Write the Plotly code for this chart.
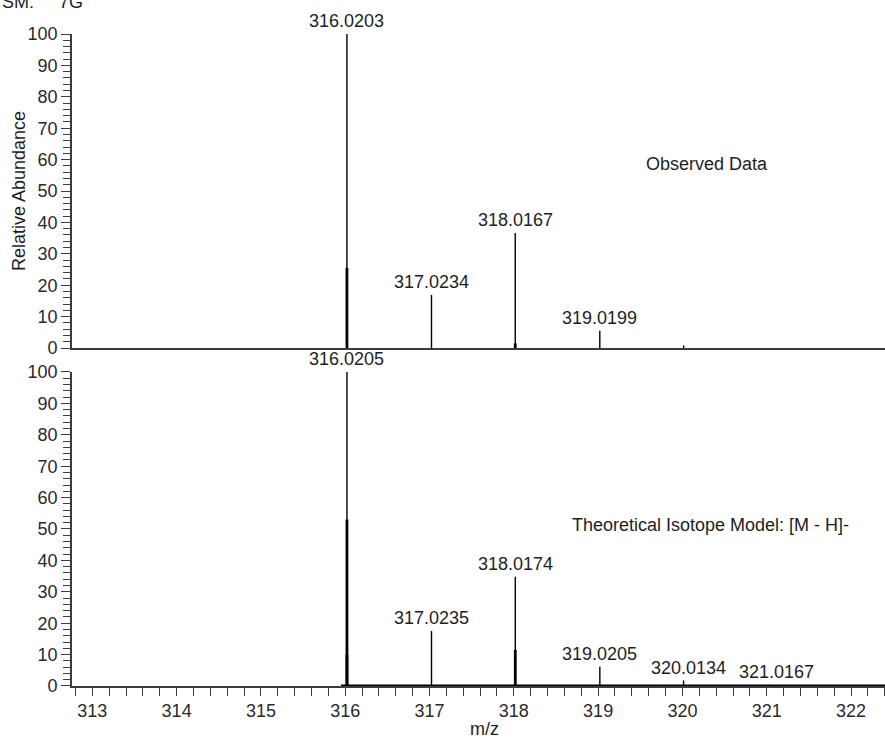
import plotly.graph_objects as go

# ---------------- data ----------------
obs_mz = [316.0203, 317.0234, 318.0167, 319.0199, 320.0150]
obs_int = [100, 16.9, 36.6, 5.5, 0.8]
obs_labels = ["316.0203", "317.0234", "318.0167", "319.0199", ""]
obs_flank_mz = [316.0203, 318.0167]
obs_flank_int = [25.5, 1.5]

theo_mz = [316.0205, 317.0235, 318.0174, 319.0205, 320.0134, 321.0167]
theo_int = [100, 17.5, 34.8, 6.1, 1.8, 0.5]
theo_labels = ["316.0205", "317.0235", "318.0174", "319.0205", "320.0134", "321.0167"]
theo_flank_mz = [316.0205, 316.0205, 318.0174]
theo_flank_int = [53, 10, 11.5]
theo_profile_start = 315.95

x_range = [312.759, 322.403]
FONT = "Liberation Sans, Arial, sans-serif"
AX = "#3c3c3c"


def sticks(mz, inten):
    xs, ys = [], []
    for m, i in zip(mz, inten):
        xs += [m, m, None]
        ys += [0, i, None]
    return xs, ys


fig = go.Figure()

# observed (top panel)
x, y = sticks(obs_mz, obs_int)
fig.add_trace(go.Scatter(x=x, y=y, mode="lines", line=dict(color="black", width=1.4),
                         xaxis="x2", yaxis="y2", hoverinfo="skip", showlegend=False))
x, y = sticks(obs_flank_mz, obs_flank_int)
fig.add_trace(go.Scatter(x=x, y=y, mode="lines", line=dict(color="black", width=2.8),
                         xaxis="x2", yaxis="y2", hoverinfo="skip", showlegend=False))

# theoretical (bottom panel): baseline of the modelled profile + sticks
fig.add_trace(go.Scatter(x=[theo_profile_start, x_range[1]], y=[0, 0], mode="lines",
                         line=dict(color="black", width=3.2),
                         xaxis="x", yaxis="y", hoverinfo="skip", showlegend=False))
x, y = sticks(theo_mz, theo_int)
fig.add_trace(go.Scatter(x=x, y=y, mode="lines", line=dict(color="black", width=1.4),
                         xaxis="x", yaxis="y", hoverinfo="skip", showlegend=False))
x, y = sticks(theo_flank_mz, theo_flank_int)
fig.add_trace(go.Scatter(x=x, y=y, mode="lines", line=dict(color="black", width=2.8),
                         xaxis="x", yaxis="y", hoverinfo="skip", showlegend=False))

annotations = []
lab_font = dict(family=FONT, size=18, color="#1e1e1e")
for m, i, t in zip(obs_mz, obs_int, obs_labels):
    if t:
        annotations.append(dict(x=m, y=i, xref="x2", yref="y2", text=t, showarrow=False,
                                xanchor="center", yanchor="middle", yshift=13, font=lab_font))
leaders = {"320.0134": (5, -12), "321.0167": (8, -12)}
for m, i, t in zip(theo_mz, theo_int, theo_labels):
    if t in leaders:
        ax, ay = leaders[t]
        annotations.append(dict(x=m, y=i, xref="x", yref="y", text=t, showarrow=True,
                                arrowhead=0, arrowwidth=1, arrowcolor="#9a9a9a",
                                ax=ax, ay=ay, standoff=0, font=lab_font))
    else:
        annotations.append(dict(x=m, y=i, xref="x", yref="y", text=t, showarrow=False,
                                xanchor="center", yanchor="middle", yshift=13, font=lab_font))

annotations += [
    dict(x=0.781, y=0.586, xref="x2 domain", yref="y2 domain", text="Observed Data",
         xanchor="center", yanchor="middle", showarrow=False, font=lab_font),
    dict(x=0.785, y=0.513, xref="x domain", yref="y domain",
         text="Theoretical Isotope Model: [M - H]-", xanchor="center", yanchor="middle",
         showarrow=False, font=lab_font),
    dict(x=0, y=0.5, xref="paper", yref="y2 domain", xshift=-53, text="Relative Abundance",
         textangle=-90, xanchor="center", yanchor="middle", showarrow=False, font=lab_font),
    dict(x=0.5, y=0, xref="paper", yref="paper", xshift=6, yshift=-43, text="m/z",
         xanchor="center", yanchor="middle", showarrow=False, font=lab_font),
    dict(x=0, y=1, xref="paper", yref="paper", xshift=-72, yshift=20, xanchor="left",
         yanchor="bottom", text="SM:\u00a0\u00a0\u00a0\u00a0\u00a07G", showarrow=False,
         font=lab_font),
]

yax_common = dict(range=[0, 100], tick0=0, dtick=10, ticks="outside", ticklen=9, tickwidth=1.3,
                  tickcolor=AX, showline=True, linecolor=AX, linewidth=1.6, showgrid=False,
                  zeroline=False, fixedrange=True,
                  minor=dict(dtick=2, ticks="outside", ticklen=7, tickwidth=1.2, tickcolor=AX),
                  tickfont=dict(family=FONT, size=18, color="#2a2a2a"))

fig.update_layout(
    width=885, height=740,
    margin=dict(l=72, r=0, t=34, b=54),
    paper_bgcolor="white", plot_bgcolor="white",
    showlegend=False,
    xaxis=dict(range=x_range, anchor="y", domain=[0, 1], tick0=313, dtick=1, ticks="outside",
               ticklen=8, tickwidth=1.3, tickcolor=AX, showline=True, linecolor=AX,
               linewidth=1.6, showgrid=False, zeroline=False,
               minor=dict(dtick=0.2, ticks="outside", ticklen=8, tickwidth=1.2, tickcolor=AX),
               tickfont=dict(family=FONT, size=18, color="#2a2a2a")),
    xaxis2=dict(range=x_range, anchor="y2", domain=[0, 1], matches="x", showticklabels=False,
                ticks="", showline=True, linecolor=AX, linewidth=1.6, showgrid=False,
                zeroline=False),
    yaxis=dict(domain=[0, 0.4816], anchor="x", **yax_common),
    yaxis2=dict(domain=[0.5184, 1], anchor="x2", **yax_common),
    annotations=annotations,
)

fig.write_html("out.html", config={"displayModeBar": False},
               post_script="document.body.style.margin='0';")
